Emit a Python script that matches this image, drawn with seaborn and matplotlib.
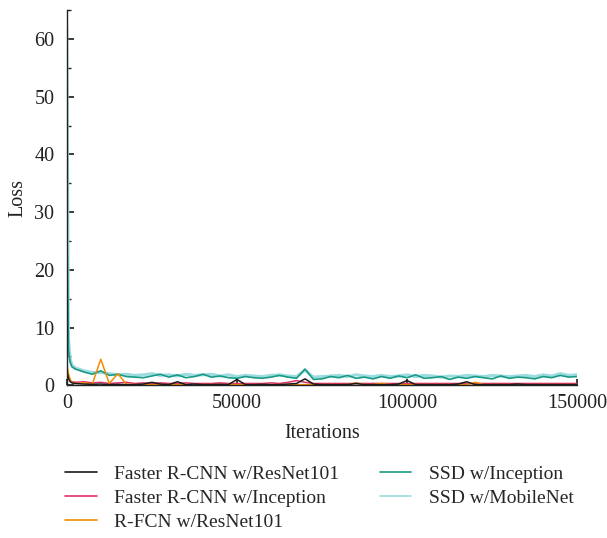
import numpy as np
import pandas as pd
import matplotlib
matplotlib.use("Agg")
import matplotlib.pyplot as plt
import seaborn as sns
from matplotlib.ticker import MultipleLocator
from matplotlib.lines import Line2D

iterations = [0, 500, 1000, 1500] + list(range(2500, 150001, 2500))

frcnn_resnet = [2.5, 1.2, 0.6, 0.4,
    0.3, 0.2, 0.15, 0.2, 0.1, 0.15, 0.1, 0.1, 0.2, 0.5,
    0.2, 0.1, 0.6, 0.1, 0.2, 0.1, 0.1, 0.15, 0.1, 1.0,
    0.1, 0.1, 0.15, 0.1, 0.1, 0.2, 0.3, 1.1, 0.2, 0.1,
    0.1, 0.1, 0.1, 0.3, 0.1, 0.1, 0.1, 0.1, 0.2, 0.8,
    0.1, 0.1, 0.1, 0.1, 0.1, 0.2, 0.6, 0.1, 0.1, 0.1,
    0.1, 0.1, 0.2, 0.1, 0.1, 0.1, 0.1, 0.1, 0.1, 0.1]

frcnn_inception = [3.0, 1.5, 0.8, 0.6,
    0.5, 0.6, 0.4, 0.5, 0.3, 0.4, 0.5, 0.3, 0.4, 0.3,
    0.4, 0.3, 0.3, 0.4, 0.3, 0.3, 0.3, 0.4, 0.3, 0.3,
    0.3, 0.3, 0.3, 0.4, 0.3, 0.5, 0.8, 0.5, 0.3, 0.3,
    0.3, 0.3, 0.3, 0.3, 0.3, 0.3, 0.3, 0.3, 0.3, 0.3,
    0.3, 0.3, 0.3, 0.3, 0.3, 0.3, 0.3, 0.3, 0.3, 0.3,
    0.3, 0.3, 0.3, 0.3, 0.3, 0.3, 0.3, 0.3, 0.3, 0.3]

rfcn_resnet = [3.5, 2.0, 1.0, 0.5,
    0.3, 0.4, 0.2, 4.5, 0.3, 2.0, 0.2, 0.1, 0.1, 0.1,
    0.1, 0.1, 0.1, 0.1, 0.1, 0.1, 0.1, 0.1, 0.1, 0.1,
    0.1, 0.1, 0.1, 0.1, 0.1, 0.1, 0.1, 0.1, 0.1, 0.1,
    0.1, 0.1, 0.1, 0.4, 0.1, 0.1, 0.3, 0.1, 0.1, 0.1,
    0.1, 0.1, 0.1, 0.1, 0.1, 0.1, 0.1, 0.5, 0.1, 0.1,
    0.1, 0.1, 0.1, 0.1, 0.1, 0.1, 0.1, 0.1, 0.1, 0.1]

ssd_inception = [30, 6.0, 4.0, 3.2,
    2.8, 2.3, 1.9, 2.5, 1.7, 1.9, 1.5, 1.4, 1.3, 1.6,
    1.9, 1.4, 1.8, 1.3, 1.5, 1.9, 1.4, 1.6, 1.3, 1.2,
    1.5, 1.3, 1.2, 1.4, 1.7, 1.4, 1.2, 2.8, 1.0, 1.1,
    1.5, 1.3, 1.7, 1.2, 1.4, 1.1, 1.5, 1.2, 1.6, 1.3,
    1.8, 1.2, 1.3, 1.5, 1.0, 1.4, 1.2, 1.5, 1.3, 1.1,
    1.6, 1.2, 1.4, 1.3, 1.1, 1.5, 1.3, 1.7, 1.4, 1.5]

ssd_mobilenet = [62, 8.0, 4.5, 3.5,
    3.0, 2.5, 2.2, 2.2, 2.0, 1.8, 1.9, 1.7, 1.8, 2.0,
    1.7, 1.8, 1.6, 1.9, 1.7, 1.8, 1.9, 1.6, 1.8, 1.5,
    1.7, 1.6, 1.5, 1.7, 1.8, 1.6, 1.5, 2.6, 1.4, 1.5,
    1.6, 1.7, 1.5, 1.8, 1.6, 1.5, 1.7, 1.5, 1.6, 1.8,
    1.5, 1.7, 1.6, 1.4, 1.6, 1.5, 1.7, 1.6, 1.5, 1.7,
    1.6, 1.5, 1.6, 1.7, 1.5, 1.8, 1.6, 2.0, 1.7, 1.8]

labels = ["Faster R-CNN w/ResNet101", "Faster R-CNN w/Inception",
          "R-FCN w/ResNet101", "SSD w/Inception", "SSD w/MobileNet"]
x_ticks = [0, 50000, 100000, 150000]
y_ticks = [0, 10, 20, 30, 40, 50, 60]

sns.set_theme(style="ticks")
plt.rcParams['font.family'] = ['Liberation Serif', 'DejaVu Serif']

fig = plt.figure(figsize=(6.07, 5.38), dpi=100)
ax = fig.add_axes([0.110, 0.284, 0.841, 0.697])

series = [ssd_mobilenet, ssd_inception, frcnn_inception, rfcn_resnet, frcnn_resnet]
names = [labels[4], labels[3], labels[1], labels[2], labels[0]]
colors = {labels[0]: "#1a1a1a", labels[1]: "#e0306a", labels[2]: "#f28c00",
          labels[3]: "#1a9a86", labels[4]: "#9adcdf"}
widths = {labels[0]: 1.1, labels[1]: 1.1, labels[2]: 1.1, labels[3]: 1.2, labels[4]: 2.2}

for vals, name in zip(series, names):
    df = pd.DataFrame({"Iterations": iterations, "Loss": vals})
    sns.lineplot(data=df, x="Iterations", y="Loss", color=colors[name],
                 linewidth=widths[name], ax=ax, label=name, legend=False)

ax.set_xlim(0, 150000)
ax.set_ylim(0, 65)
ax.set_xticks(x_ticks)
ax.set_xticklabels([str(t) for t in x_ticks])
ax.set_yticks(y_ticks)
ax.yaxis.set_minor_locator(MultipleLocator(5))
ax.tick_params(axis="both", which="both", direction="in", labelsize=14.5, colors="#222222")
ax.tick_params(axis="y", which="major", length=5, pad=9)
ax.tick_params(axis="y", which="minor", length=3)
ax.tick_params(axis="x", which="major", length=4, pad=6)
sns.despine(ax=ax)
for s in ["left", "bottom"]:
    ax.spines[s].set_color("#222222")
    ax.spines[s].set_linewidth(1.0)

ax.set_xlabel("Iterations", fontsize=14.5, color="#222222", labelpad=8)
ax.set_ylabel("Loss", fontsize=14.5, color="#222222", labelpad=5)

handles = [Line2D([0], [0], color=colors[l], lw=1.2) for l in labels]
fig.legend(handles, labels, loc="upper left", bbox_to_anchor=(0.079, 0.168),
           ncol=2, frameon=False, fontsize=14, handlelength=1.6,
           columnspacing=2.1, labelspacing=0.33, handletextpad=0.9)

fig.savefig("out.png", dpi=100)
